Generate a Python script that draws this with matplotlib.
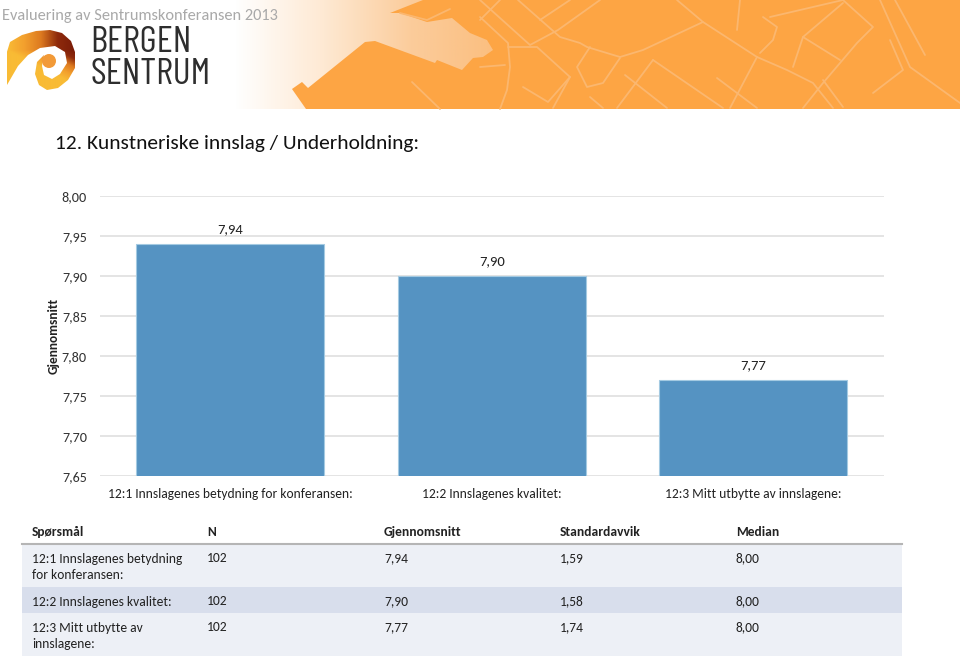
import matplotlib
matplotlib.use('Agg')
import matplotlib.pyplot as plt
import numpy as np
from matplotlib.colors import LinearSegmentedColormap
from matplotlib.patches import Polygon, Rectangle, Circle

plt.rcParams['font.family'] = ['Carlito', 'Lato', 'DejaVu Sans']

# data
questions = ['12:1 Innslagenes betydning for konferansen:',
             '12:2 Innslagenes kvalitet:',
             '12:3 Mitt utbytte av innslagene:']
table_questions = ['12:1 Innslagenes betydning\nfor konferansen:',
                   '12:2 Innslagenes kvalitet:',
                   '12:3 Mitt utbytte av\ninnslagene:']
means = [7.94, 7.90, 7.77]
n_values = [102, 102, 102]
std_devs = [1.59, 1.58, 1.74]
medians = [8.00, 8.00, 8.00]
y_ticks = [7.65, 7.70, 7.75, 7.80, 7.85, 7.90, 7.95, 8.00]
columns = ['Spørsmål', 'N', 'Gjennomsnitt', 'Standardavvik', 'Median']


def comma(v):
    return f'{v:.2f}'.replace('.', ',')


W, H = 960, 660
fig = plt.figure(figsize=(9.6, 6.6), dpi=100, facecolor='white')

# page layer in pixel coordinates
bg = fig.add_axes([0, 0, 1, 1])
bg.axis('off')

# header gradient
orange = '#FDA544'
water = LinearSegmentedColormap.from_list('water', ['#FFFFFF', '#FEE9D3', '#FBCC9B', '#FBBE7E'])
bg.imshow(np.linspace(0, 1, 256).reshape(1, -1), extent=[235, 500, 109, 0], cmap=water, aspect='auto', zorder=1)

# land shape of the map
land = [(306, 109), (292, 89), (302, 82), (308, 88), (365, 42), (375, 41), (435, 63), (437, 60), (462, 70), (473, 58),
        (483, 57), (493, 50), (487, 40), (470, 33), (452, 18), (427, 22), (400, 13), (390, 13), (423, 0), (960, 0),
        (960, 109)]
bg.add_patch(Polygon(land, closed=True, fc=orange, ec='none', zorder=2))

# street lines on the map
streets = [
    [(400, 13), (427, 20), (450, 9)],
    [(412, 82), (440, 109)],
    [(480, 17), (508, 43), (510, 67), (507, 90), (500, 109)],
    [(508, 47), (537, 47), (570, 77), (548, 102), (523, 87)],
    [(518, 0), (560, 37), (580, 43), (587, 47), (620, 57), (643, 50), (703, 22), (677, 0)],
    [(703, 22), (757, 57), (787, 70), (813, 83), (833, 108)],
    [(590, 47), (577, 67), (587, 87), (603, 83), (620, 58)],
    [(570, 77), (553, 108)],
    [(590, 97), (603, 108)],
    [(653, 60), (617, 108)],
    [(653, 60), (723, 108)],
    [(625, 75), (667, 108)],
    [(717, 78), (757, 108)],
    [(757, 57), (730, 108)],
    [(737, 30), (740, 0)],
    [(763, 17), (777, 27), (773, 40), (760, 53)],
    [(770, 17), (843, 0)],
    [(843, 0), (873, 27), (857, 43), (823, 83), (803, 108)],
    [(793, 67), (803, 37), (843, 3)],
    [(823, 80), (843, 107)],
    [(803, 37), (840, 60)],
    [(873, 93), (903, 70), (890, 40)],
    [(480, 67), (505, 65)],
    [(480, 0), (530, 45), (558, 30), (600, 0)],
    [(500, 0), (480, 20)],
    [(540, 20), (570, 0)],
    [(880, 0), (910, 67), (960, 103)],
    [(895, 0), (925, 55)],
]
for s in streets:
    xs, ys = zip(*s)
    bg.plot(xs, ys, color='#FBB76F', lw=1.3, solid_capstyle='round', zorder=3)

bg.text(2, 16, 'Evaluering av Sentrumskonferansen 2013', fontsize=11.75, color='#A9A9A9', va='center', ha='left', zorder=4)

# logo
swirl = LinearSegmentedColormap.from_list('swirl', ['#F9BB35', '#F3A02E', '#DD7A20', '#8E2A0C', '#7A1C08'])
ribbon = Polygon([(7, 85), (6, 55), (10, 42), (22, 35), (36, 31), (50, 30), (62, 33), (71, 41), (75, 52), (75, 68),
                  (68, 80), (58, 88), (47, 90), (39, 85), (35, 74), (37, 62), (44, 55), (42, 66), (44, 75), (52, 79),
                  (60, 74), (67, 63), (65, 52), (55, 46), (40, 48), (28, 55), (18, 66)],
                 closed=True, fc='none', ec='none', zorder=4)
bg.add_patch(ribbon)
gx, gy = np.meshgrid(np.linspace(7, 75, 120), np.linspace(30, 90, 120))
shade = np.clip((gx - 7) / 68 - np.clip(gy - 50, 0, None) / 35, 0, 1)
logo = bg.imshow(shade, extent=[7, 75, 90, 30], cmap=swirl, vmin=0, vmax=1, aspect='auto', zorder=4)
logo.set_clip_path(ribbon)
bg.add_patch(Circle((49, 61), 7, fc='#F29A38', ec='none', zorder=5))
logo_font = ['Barlow Condensed', 'Teko', 'Liberation Sans', 'DejaVu Sans']
bg.text(90, 43, 'BERGEN', family=logo_font, fontsize=27, color='#2E2E2E', va='center', ha='left', zorder=4)
bg.text(90, 74, 'SENTRUM', family=logo_font, fontsize=27, color='#2E2E2E', va='center', ha='left', zorder=4)

bg.text(55, 144, '12. Kunstneriske innslag / Underholdning:', fontsize=15.4, color='#111111', va='center', ha='left', zorder=4)

# table
bg.add_patch(Rectangle((22, 544.5), 880, 42, fc='#EDF0F6', ec='none'))
bg.add_patch(Rectangle((22, 586.5), 880, 26, fc='#D8DEEC', ec='none'))
bg.add_patch(Rectangle((22, 612.5), 880, 43, fc='#EDF0F6', ec='none'))
bg.plot([22, 902], [544, 544], color='#B5B5B5', lw=1.5, zorder=3)

col_x = [32, 207, 384, 560, 736]
row_y = [558, 601, 627]
for x, c in zip(col_x, columns):
    bg.text(x, 532, c, fontsize=9.75, fontweight='bold', color='#222222', va='center', ha='left')
for i, y in enumerate(row_y):
    bg.text(col_x[0], y - 5, table_questions[i], fontsize=9.75, color='#222222', va='top', ha='left', linespacing=1.4)
    bg.text(col_x[1], y, str(n_values[i]), fontsize=9.75, color='#222222', va='center', ha='left')
    bg.text(col_x[2], y, comma(means[i]), fontsize=9.75, color='#222222', va='center', ha='left')
    bg.text(col_x[3], y, comma(std_devs[i]), fontsize=9.75, color='#222222', va='center', ha='left')
    bg.text(col_x[4], y, comma(medians[i]), fontsize=9.75, color='#222222', va='center', ha='left')

bg.set_xlim(0, W)
bg.set_ylim(H, 0)

# chart
left, right, top, bottom = 99.5, 884, 196, 476
ax = fig.add_axes([left / W, 1 - bottom / H, (right - left) / W, (bottom - top) / H])
ax.patch.set_alpha(0)
x = np.arange(len(means))
bars = ax.bar(x, means, width=0.72, color='#5593C2', edgecolor='#A4CAE2', linewidth=0.8, zorder=3)
ax.set_xlim(-0.5, 2.5)
ax.set_ylim(7.65, 8.00)
ax.set_yticks(y_ticks)
ax.set_yticklabels([comma(t) for t in y_ticks], fontsize=10.2, color='#333333')
ax.set_xticks(x)
ax.set_xticklabels(questions, fontsize=9.75, color='#222222')
ax.tick_params(axis='both', length=0)
ax.tick_params(axis='y', pad=9)
ax.tick_params(axis='x', pad=9)
ax.grid(axis='y', color='#E2E2E2', lw=1.3, zorder=0)
ax.set_axisbelow(True)
for s in ax.spines.values():
    s.set_visible(False)
for i, v in enumerate(means):
    ax.annotate(comma(v), (x[i], v), xytext=(0, 9), textcoords='offset pixels', ha='center', va='bottom', fontsize=10.5, color='#222222')
ax.set_ylabel('Gjennomsnitt', fontsize=9.6, fontweight='bold', color='#222222')
ax.yaxis.set_label_coords((60 - left) / (right - left), 0.5)

plt.savefig('out.png', dpi=100)
